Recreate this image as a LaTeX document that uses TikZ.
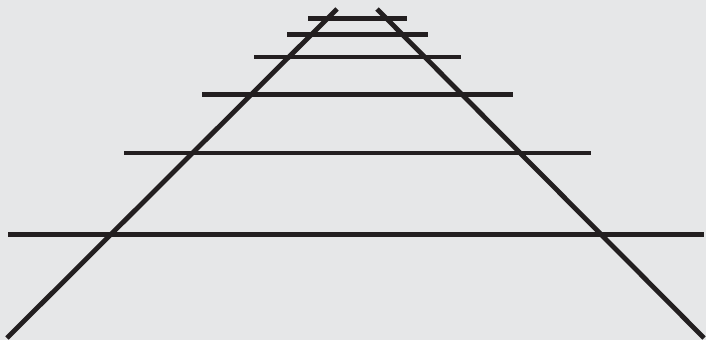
\documentclass[tikz,border=0pt]{standalone}
\definecolor{bg}{HTML}{E6E7E8}
\definecolor{ink}{HTML}{231F20}
\tikzset{rail/.style={ink,line width=4.8pt,line cap=butt}}
\begin{document}
\begin{tikzpicture}[x=1pt,y=-1pt]
\fill[bg] (0,0) rectangle (706,340);
\useasboundingbox (0,0) rectangle (706,340);
% ties
\draw[rail] (308,18.5) -- (407,18.5);
\draw[rail] (287,34.5) -- (428,34.5);
\draw[rail] (254,57) -- (461,57);
\draw[rail] (202,94.5) -- (513,94.5);
\draw[rail] (124,153) -- (591,153);
\draw[rail] (8,234.5) -- (704,234.5);
% rails
\coordinate (lt) at (337,9);
\coordinate (lb) at (7,338);
\coordinate (rt) at (377,9);
\coordinate (rb) at (704,338);
\draw[rail] (lb) -- (lt);
\draw[rail] (rt) -- (rb);
\end{tikzpicture}
\end{document}
